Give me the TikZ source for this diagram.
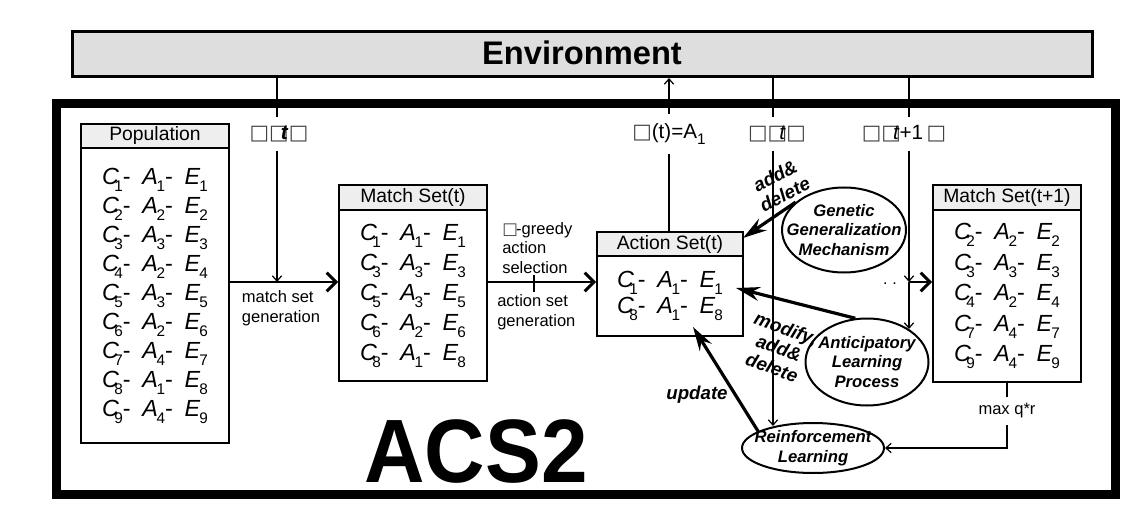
\documentclass[tikz,border=0pt]{standalone}
\usepackage{fontspec}
\setmainfont{Liberation Sans}
\newfontfamily\symf{DejaVu Sans}
\usetikzlibrary{arrows.meta,shapes.geometric}
\newcommand{\pxu}{0.75pt}
\newcommand{\tofu}{{\symf\color{black!75}\symbol{"25A1}}}
\newcommand{\sbs}[1]{\raisebox{-0.3em}{\fontsize{11.5}{12}\selectfont #1}}
\newcommand{\cae}[3]{\textit{C}\kern-0.2em\sbs{#1}-\hspace{0.5em}\textit{A}\kern-0.06em\sbs{#2}-\hspace{0.5em}\textit{E}\kern-0.04em\sbs{#3}}
\begin{document}
\begin{tikzpicture}[x=0.75pt,y=-0.75pt,
  hdr/.style={draw, line width=1.5pt, fill=gray!13, anchor=north west, inner sep=0pt, font=\fontsize{14.5}{17}\selectfont},
  bdy/.style={draw, line width=1.5pt, fill=white, anchor=north west, inner sep=0pt, align=center},
  thinline/.style={line width=0.9pt},
  thinarr/.style={line width=0.9pt, -{Straight Barb[length=4pt,width=7pt]}},
  bigarr/.style={line width=2.2pt, -{Straight Barb[length=7pt,width=14pt]}},
  fatarr/.style={line width=2.4pt, -{Stealth[length=18pt,width=10.5pt,inset=6pt]}},
  oval/.style={draw, ellipse, line width=1.5pt, inner sep=0pt},
  ovaltext/.style={align=center, font=\bfseries\itshape\fontsize{12.5}{14.7}\selectfont},
  smalltext/.style={align=left, inner sep=0pt, font=\fontsize{12.4}{14.6}\selectfont},
  toplabel/.style={inner xsep=2pt, inner ysep=6.5pt, font=\fontsize{15.5}{18}\selectfont},
  arrlabel/.style={align=center, inner sep=0pt, font=\bfseries\itshape\fontsize{14}{15.5}\selectfont}
]
\useasboundingbox (0,0) rectangle (1138,520);

% environment
\node (env) [draw, line width=2.25pt, fill=gray!26, anchor=north west, minimum width={1020*\pxu}, minimum height={45*\pxu}] at (71,30) {};
\node (envtext) at (582,53) {\bfseries\fontsize{24.5}{28}\selectfont Environment};

% ACS2 frame
\node (acs) [draw, line width=6.75pt, anchor=north west, minimum width={1059*\pxu}, minimum height={391*\pxu}] at (52,99) {};
\node (acstitle) [anchor=base, inner sep=0pt] at (476,482) {\scalebox{0.93}[1]{\bfseries\fontsize{67.5}{70}\selectfont ACS2}};

% Population
\node (pophd) [hdr, minimum width={148*\pxu}, minimum height={24*\pxu}] at (80,123) {};
\node (poptext) at (pophd.center) {\fontsize{14.5}{17}\selectfont Population};
\node (popbd) [bdy, minimum width={148*\pxu}, minimum height={295*\pxu}, font=\fontsize{17.5}{21.75}\selectfont] at (80,147)
 {\cae{1}{1}{1}\\\cae{2}{2}{2}\\\cae{3}{3}{3}\\\cae{4}{2}{4}\\\cae{5}{3}{5}\\\cae{6}{2}{6}\\\cae{7}{4}{7}\\\cae{8}{1}{8}\\\cae{9}{4}{9}};

% Match Set(t)
\node (mshd) [hdr, minimum width={148*\pxu}, minimum height={25*\pxu}] at (338,184) {};
\node (mstext) at (mshd.center) {\fontsize{14.5}{17}\selectfont Match Set(t)};
\node (msbd) [bdy, minimum width={148*\pxu}, minimum height={171*\pxu}, font=\fontsize{17.5}{22.5}\selectfont] at (338,209)
 {\cae{1}{1}{1}\\\cae{3}{3}{3}\\\cae{5}{3}{5}\\\cae{6}{2}{6}\\\cae{8}{1}{8}};

% Action Set(t)
\node (ashd) [hdr, minimum width={146*\pxu}, minimum height={24*\pxu}] at (596,231) {};
\node (astext) at (ashd.center) {\fontsize{14.5}{17}\selectfont Action Set(t)};
\node (asbd) [bdy, minimum width={146*\pxu}, minimum height={80*\pxu}, font=\fontsize{17.5}{19.5}\selectfont] at (596,255)
 {\cae{1}{1}{1}\\\cae{8}{1}{8}};

% Match Set(t+1)
\node (mnhd) [hdr, minimum width={148*\pxu}, minimum height={25*\pxu}] at (932,184) {};
\node (mntext) at (mnhd.center) {\fontsize{14.5}{17}\selectfont Match Set(t+1)};
\node (mnbd) [bdy, minimum width={148*\pxu}, minimum height={172*\pxu}, font=\fontsize{17.5}{22.9}\selectfont] at (932,209)
 {\cae{2}{2}{2}\\\cae{3}{3}{3}\\\cae{4}{2}{4}\\\cae{7}{4}{7}\\\cae{9}{4}{9}};

% ellipses
\node (ggm) [oval, minimum width={124*\pxu}, minimum height={85*\pxu}] at (844,230) {};
\node (ggmtext) [ovaltext] at (ggm.center) {Genetic\\Generalization\\Mechanism};
\node (alp) [oval, minimum width={123*\pxu}, minimum height={87*\pxu}] at (867,362) {};
\node (alptext) [ovaltext] at (alp.center) {Anticipatory\\Learning\\Process};
\node (rl) [oval, minimum width={142*\pxu}, minimum height={50*\pxu}] at (813,448) {};
\node (rltext) [ovaltext] at (rl.center) {Reinforcement\\Learning};

% labels on vertical lines
\node (lt1) [toplabel] at (279,134) {\tofu\tofu\kern-0.38em\textbf{\textit{t}}\kern0.02em\tofu};
\node (la) [toplabel] at (669,134) {\tofu(t)=A\sbs{1}};
\node (lt2) [toplabel] at (777,134) {\tofu\tofu\kern-0.38em\textit{t}\kern0.02em\tofu};
\node (lt3) [toplabel] at (904,134) {\tofu\tofu\kern-0.38em\textit{t}+1\,\tofu};
\node (lq) [smalltext, inner ysep=5pt] at (1007,411) {max q*r};

% coordinates
\coordinate (v1) at (277,75);
\coordinate (v2) at (669,75);
\coordinate (v3) at (773,75);
\coordinate (v4) at (909,75);
\coordinate (v5) at (1007,381);
\coordinate (j1) at (277,282);
\coordinate (j4) at (909,282);
\coordinate (rltop) at (773,426);
\coordinate (alptop) at (909,329);
\coordinate (tick1) at (534,275);
\coordinate (tick2) at (534,292);
\coordinate (tip1) at (743,238);
\coordinate (tip2) at (736,288);
\coordinate (tip3) at (693,327);

% thin connectors
\draw[thinline] (env.south -| v1) -- (v1 |- lt1.north);
\draw[thinarr] (v1 |- lt1.south) -- (j1);
\draw[thinline] (ashd.north -| v2) -- (v2 |- la.south);
\draw[thinarr] (v2 |- la.north) -- (env.south -| v2);
\draw[thinline] (env.south -| v3) -- (v3 |- lt2.north);
\draw[thinarr] (v3 |- lt2.south) -- (rltop);
\draw[thinline] (env.south -| v4) -- (v4 |- lt3.north);
\draw[thinarr] (v4 |- lt3.south) -- (j4);
\draw[thinarr] (j4) -- (alptop);
\draw[thinline] (mnbd.south -| v5) -- (v5 |- lq.north);
\draw[thinarr] (v5 |- lq.south) |- (rl.east);

% thick horizontal arrows
\draw[bigarr] (popbd.east |- j1) -- (msbd.west |- j1);
\draw[bigarr] (msbd.east |- j1) -- (asbd.west |- j1);
\draw[line width=1.3pt] (tick1) -- (tick2);
\draw[bigarr] (j4) -- (mnbd.west |- j4);
\node (dots) [anchor=base, inner sep=0pt, font=\fontsize{12}{14}\selectfont] at (890,285) {.\hspace{0.3em}.};

% fat arrows
\draw[fatarr] (ggm.150) -- (tip1);
\draw[fatarr] (alp.105) -- (tip2);
\draw[fatarr] (rl.163) -- (tip3);

% arrow labels
\node (lbl1) [arrlabel, rotate=28] at (780,185) {add\&\\delete};
\node (lbl2) [arrlabel, rotate=-20] at (779,348) {modify,\\add\&\\delete};
\node (lbl3) [arrlabel] at (697,395) {update};

% process labels
\node (lmsg) [smalltext] at (281,308) {match set\\generation};
\node (lsel) [smalltext, anchor=west] at (502,248) {\tofu\kern-0.1em-greedy\\action\\selection};
\node (lasg) [smalltext, anchor=west] at (497,312) {action set\\generation};
\end{tikzpicture}
\end{document}
